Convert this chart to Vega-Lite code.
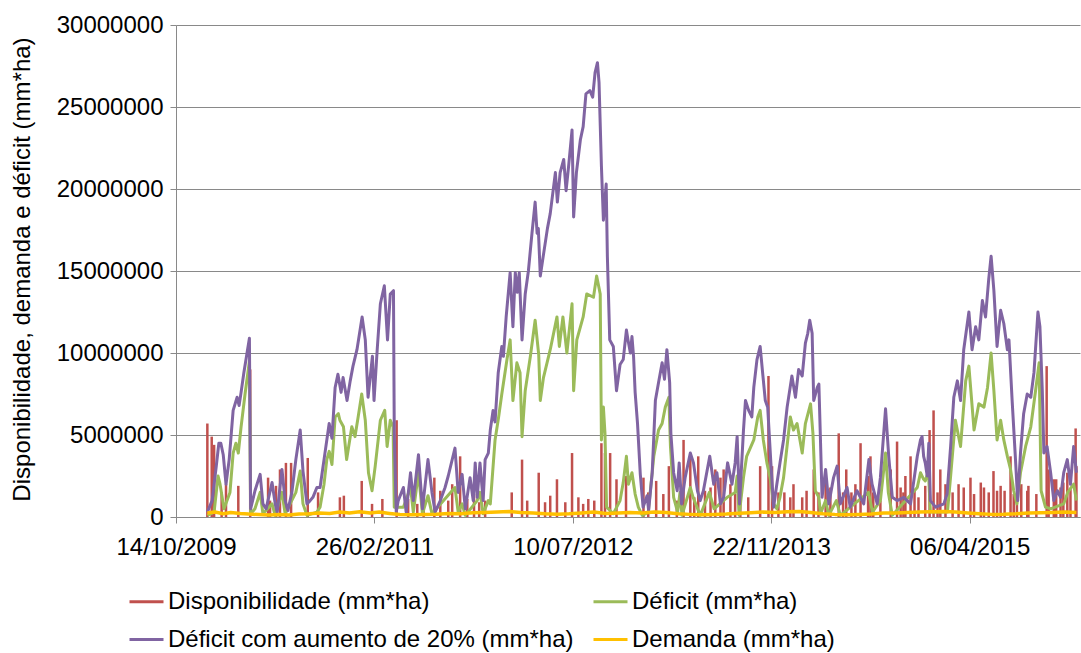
{
  "$schema": "https://vega.github.io/schema/vega-lite/v6.json",
  "width": 904,
  "height": 492,
  "autosize": {"type": "none"},
  "padding": {"left": 176, "top": 25, "right": 1, "bottom": 136},
  "background": "white",
  "config": {
    "view": {"stroke": null},
    "font": "Liberation Sans",
    "axis": {"labelFont": "Liberation Sans", "titleFont": "Liberation Sans", "labelColor": "#000000", "titleColor": "#000000"},
    "legend": {
      "orient": "none", "legendX": -48, "legendY": 558, "columns": 2, "direction": "horizontal",
      "symbolType": "stroke", "symbolSize": 1156, "symbolStrokeWidth": 3,
      "labelFont": "Liberation Sans", "labelFontSize": 24, "labelColor": "#000000", "labelLimit": 0,
      "columnPadding": 13, "rowPadding": 7, "labelOffset": 3, "padding": 0
    }
  },
  "datasets": {
    "disp": [
      {"d":"2010-01-01","v":5700000},{"d":"2010-01-12","v":4900000},{"d":"2010-01-18","v":4400000},{"d":"2010-02-06","v":1500000},
      {"d":"2010-02-17","v":2000000},{"d":"2010-03-20","v":1900000},{"d":"2010-04-19","v":9000000},{"d":"2010-06-03","v":2400000},
      {"d":"2010-06-08","v":1000000},{"d":"2010-06-23","v":1900000},
      {"d":"2010-07-03","v":2900000},{"d":"2010-07-18","v":3300000},{"d":"2010-07-31","v":3300000},{"d":"2010-09-11","v":3600000},
      {"d":"2010-10-07","v":1500000},{"d":"2010-12-01","v":1200000},{"d":"2010-12-11","v":1300000},{"d":"2011-01-25","v":2200000},
      {"d":"2011-02-20","v":800000},{"d":"2011-03-18","v":1100000},{"d":"2011-04-23","v":5900000},{"d":"2011-05-22","v":1100000},
      {"d":"2011-06-14","v":800000},{"d":"2011-06-30","v":1500000},{"d":"2011-07-27","v":2400000},{"d":"2011-08-11","v":1600000},
      {"d":"2011-08-31","v":1000000},{"d":"2011-09-10","v":2000000},{"d":"2011-09-30","v":3700000},
      {"d":"2011-10-18","v":1100000},{"d":"2011-11-04","v":1400000},{"d":"2011-11-17","v":900000},{"d":"2011-12-02","v":1000000},
      {"d":"2012-02-07","v":1500000},{"d":"2012-03-04","v":3500000},{"d":"2012-03-17","v":1000000},{"d":"2012-04-15","v":2700000},
      {"d":"2012-05-01","v":900000},{"d":"2012-05-14","v":1300000},{"d":"2012-05-31","v":2300000},
      {"d":"2012-06-21","v":900000},{"d":"2012-07-08","v":3900000},{"d":"2012-07-24","v":1200000},{"d":"2012-08-05","v":800000},
      {"d":"2012-08-18","v":1100000},{"d":"2012-09-02","v":1000000},
      {"d":"2012-09-20","v":4500000},{"d":"2012-09-29","v":3900000},{"d":"2012-10-12","v":3900000},{"d":"2012-10-28","v":2300000},
      {"d":"2012-11-21","v":2500000},{"d":"2013-01-04","v":2400000},{"d":"2013-01-16","v":1500000},{"d":"2013-02-05","v":2200000},
      {"d":"2013-02-23","v":1400000},{"d":"2013-03-09","v":3100000},{"d":"2013-03-29","v":1000000},{"d":"2013-04-15","v":4700000},
      {"d":"2013-05-02","v":3900000},{"d":"2013-05-12","v":1200000},{"d":"2013-05-22","v":3700000},
      {"d":"2013-06-08","v":1600000},{"d":"2013-06-22","v":1800000},{"d":"2013-07-04","v":2900000},{"d":"2013-07-17","v":2400000},
      {"d":"2013-07-25","v":2900000},{"d":"2013-08-11","v":2000000},{"d":"2013-08-23","v":1400000},{"d":"2013-09-05","v":1600000},
      {"d":"2013-09-25","v":1200000},{"d":"2013-10-25","v":3100000},{"d":"2013-11-15","v":8600000},
      {"d":"2013-11-24","v":3100000},{"d":"2013-12-10","v":1500000},{"d":"2013-12-25","v":1500000},{"d":"2014-01-09","v":1200000},
      {"d":"2014-01-17","v":2000000},{"d":"2014-02-08","v":1200000},{"d":"2014-02-19","v":1600000},{"d":"2014-03-09","v":2900000},
      {"d":"2014-03-21","v":1500000},{"d":"2014-04-08","v":2700000},{"d":"2014-04-20","v":1800000},{"d":"2014-05-11","v":5100000},
      {"d":"2014-05-22","v":1500000},{"d":"2014-05-30","v":2900000},{"d":"2014-06-12","v":1500000},{"d":"2014-06-22","v":2000000},
      {"d":"2014-07-05","v":4500000},{"d":"2014-07-24","v":2500000},{"d":"2014-07-30","v":3700000},{"d":"2014-08-06","v":1500000},
      {"d":"2014-08-24","v":1000000},{"d":"2014-09-19","v":2900000},{"d":"2014-10-05","v":4600000},{"d":"2014-10-14","v":1800000},
      {"d":"2014-10-21","v":1500000},{"d":"2014-10-26","v":2500000},{"d":"2014-11-08","v":3700000},{"d":"2014-11-18","v":1700000},
      {"d":"2014-11-28","v":1200000},{"d":"2014-12-15","v":1900000},{"d":"2014-12-26","v":5300000},
      {"d":"2015-01-05","v":6500000},{"d":"2015-01-15","v":1500000},{"d":"2015-01-22","v":2900000},{"d":"2015-02-04","v":2000000},
      {"d":"2015-02-22","v":1500000},{"d":"2015-03-09","v":2000000},{"d":"2015-03-22","v":1800000},{"d":"2015-04-08","v":2400000},
      {"d":"2015-04-17","v":1400000},{"d":"2015-05-04","v":2100000},{"d":"2015-05-12","v":1800000},{"d":"2015-05-24","v":1500000},
      {"d":"2015-06-05","v":2800000},{"d":"2015-06-14","v":1600000},{"d":"2015-06-23","v":1900000},{"d":"2015-07-03","v":1600000},
      {"d":"2015-07-18","v":3700000},{"d":"2015-07-26","v":1400000},{"d":"2015-08-03","v":1200000},{"d":"2015-08-14","v":2000000},
      {"d":"2015-08-29","v":1600000},{"d":"2015-09-01","v":1900000},{"d":"2015-09-21","v":1400000},{"d":"2015-10-17","v":9200000},
      {"d":"2015-10-22","v":2900000},{"d":"2015-11-04","v":2300000},{"d":"2015-11-10","v":2300000},{"d":"2015-11-21","v":1800000},
      {"d":"2015-11-28","v":2100000},{"d":"2015-12-08","v":2700000},{"d":"2015-12-16","v":1700000},{"d":"2015-12-29","v":5400000},
      {"d":"2015-12-31","v":3100000}
    ],
    "def": [
      {"d":"2010-01-01","v":100000},{"d":"2010-01-18","v":300000},{"d":"2010-01-28","v":2500000},{"d":"2010-02-02","v":2000000},
      {"d":"2010-02-12","v":500000},{"d":"2010-02-27","v":1500000},{"d":"2010-03-07","v":3900000},{"d":"2010-03-14","v":4500000},
      {"d":"2010-03-20","v":3900000},{"d":"2010-03-27","v":5500000},{"d":"2010-04-06","v":7500000},{"d":"2010-04-17","v":9500000},
      {"d":"2010-04-20","v":200000},{"d":"2010-05-01","v":500000},{"d":"2010-05-14","v":1500000},{"d":"2010-05-21","v":200000},
      {"d":"2010-06-13","v":800000},{"d":"2010-06-21","v":100000},{"d":"2010-07-08","v":1500000},{"d":"2010-07-16","v":200000},
      {"d":"2010-08-12","v":1500000},{"d":"2010-08-23","v":2800000},{"d":"2010-08-30","v":800000},{"d":"2010-09-09","v":100000},
      {"d":"2010-10-04","v":300000},{"d":"2010-10-12","v":600000},{"d":"2010-10-22","v":2000000},{"d":"2010-10-29","v":3500000},
      {"d":"2010-11-04","v":4000000},{"d":"2010-11-11","v":3200000},{"d":"2010-11-19","v":6100000},{"d":"2010-11-27","v":6300000},
      {"d":"2010-12-01","v":5900000},{"d":"2010-12-10","v":5500000},{"d":"2010-12-18","v":3500000},{"d":"2010-12-31","v":5500000},
      {"d":"2011-01-08","v":4900000},{"d":"2011-01-16","v":6100000},{"d":"2011-01-25","v":7500000},{"d":"2011-02-03","v":5900000},
      {"d":"2011-02-11","v":2700000},{"d":"2011-02-20","v":1600000},{"d":"2011-02-28","v":3100000},{"d":"2011-03-13","v":5900000},
      {"d":"2011-03-24","v":6500000},{"d":"2011-03-30","v":4300000},{"d":"2011-04-07","v":5900000},{"d":"2011-04-14","v":5500000},
      {"d":"2011-04-17","v":600000},{"d":"2011-05-10","v":600000},{"d":"2011-05-28","v":1800000},{"d":"2011-06-04","v":300000},
      {"d":"2011-06-17","v":2700000},{"d":"2011-06-27","v":200000},{"d":"2011-07-11","v":1300000},{"d":"2011-07-21","v":200000},
      {"d":"2011-09-17","v":1800000},{"d":"2011-09-25","v":300000},{"d":"2011-10-05","v":800000},{"d":"2011-10-13","v":100000},
      {"d":"2011-11-12","v":1000000},{"d":"2011-11-19","v":1500000},{"d":"2011-11-27","v":200000},{"d":"2011-12-10","v":1000000},
      {"d":"2011-12-15","v":800000},{"d":"2011-12-27","v":4700000},{"d":"2012-01-05","v":6100000},{"d":"2012-01-13","v":7500000},
      {"d":"2012-01-26","v":9600000},{"d":"2012-02-03","v":10800000},{"d":"2012-02-10","v":7100000},{"d":"2012-02-20","v":9400000},
      {"d":"2012-02-28","v":8800000},{"d":"2012-03-04","v":4900000},{"d":"2012-03-12","v":7700000},{"d":"2012-03-25","v":9800000},
      {"d":"2012-04-06","v":12000000},{"d":"2012-04-15","v":9900000},{"d":"2012-04-19","v":7100000},{"d":"2012-04-27","v":8500000},
      {"d":"2012-05-14","v":10200000},{"d":"2012-05-31","v":12200000},{"d":"2012-06-06","v":10400000},{"d":"2012-06-15","v":12200000},
      {"d":"2012-06-25","v":10000000},{"d":"2012-07-08","v":13000000},{"d":"2012-07-12","v":7700000},{"d":"2012-07-20","v":10800000},
      {"d":"2012-08-05","v":12200000},{"d":"2012-08-14","v":13600000},{"d":"2012-08-31","v":13400000},{"d":"2012-09-08","v":14700000},
      {"d":"2012-09-17","v":13600000},{"d":"2012-09-20","v":4700000},{"d":"2012-09-25","v":6700000},{"d":"2012-09-29","v":5100000},
      {"d":"2012-10-03","v":600000},{"d":"2012-10-20","v":200000},{"d":"2012-11-06","v":1000000},{"d":"2012-11-14","v":2100000},
      {"d":"2012-11-22","v":3700000},{"d":"2012-11-27","v":2000000},{"d":"2012-12-06","v":2700000},{"d":"2012-12-14","v":1400000},
      {"d":"2012-12-22","v":600000},{"d":"2013-01-01","v":100000},{"d":"2013-01-16","v":300000},{"d":"2013-01-30","v":3700000},
      {"d":"2013-02-11","v":5300000},{"d":"2013-02-20","v":5700000},{"d":"2013-02-28","v":6700000},{"d":"2013-03-09","v":7300000},
      {"d":"2013-03-13","v":4300000},{"d":"2013-03-21","v":1200000},{"d":"2013-03-31","v":300000},{"d":"2013-04-06","v":1500000},
      {"d":"2013-04-11","v":100000},{"d":"2013-05-02","v":1800000},{"d":"2013-05-09","v":1200000},{"d":"2013-05-27","v":100000},
      {"d":"2013-06-19","v":1500000},{"d":"2013-07-01","v":500000},{"d":"2013-08-03","v":1200000},{"d":"2013-08-23","v":1500000},
      {"d":"2013-08-28","v":2500000},{"d":"2013-09-02","v":100000},{"d":"2013-09-13","v":2400000},{"d":"2013-09-21","v":3700000},
      {"d":"2013-10-09","v":4700000},{"d":"2013-10-19","v":6100000},{"d":"2013-10-25","v":6500000},{"d":"2013-11-02","v":4700000},
      {"d":"2013-11-11","v":3300000},{"d":"2013-11-19","v":2400000},{"d":"2013-11-28","v":800000},{"d":"2013-12-06","v":500000},
      {"d":"2013-12-14","v":1200000},{"d":"2013-12-23","v":2400000},{"d":"2014-01-09","v":6100000},{"d":"2014-01-17","v":5300000},
      {"d":"2014-01-26","v":5700000},{"d":"2014-02-08","v":3900000},{"d":"2014-02-16","v":5700000},{"d":"2014-03-01","v":6900000},
      {"d":"2014-03-07","v":5100000},{"d":"2014-03-13","v":1600000},{"d":"2014-03-22","v":1200000},{"d":"2014-03-26","v":200000},
      {"d":"2014-04-08","v":1000000},{"d":"2014-04-16","v":100000},{"d":"2014-05-05","v":1000000},{"d":"2014-05-15","v":100000},
      {"d":"2014-07-25","v":1500000},{"d":"2014-08-04","v":300000},{"d":"2014-08-24","v":1000000},{"d":"2014-09-06","v":3900000},
      {"d":"2014-09-13","v":1500000},{"d":"2014-09-23","v":100000},{"d":"2014-11-25","v":1800000},{"d":"2014-12-03","v":2700000},
      {"d":"2014-12-11","v":2300000},{"d":"2014-12-15","v":2200000},{"d":"2014-12-23","v":2800000},{"d":"2014-12-28","v":300000},
      {"d":"2015-02-09","v":300000},{"d":"2015-02-17","v":2500000},{"d":"2015-03-01","v":5900000},{"d":"2015-03-14","v":4300000},
      {"d":"2015-03-27","v":8300000},{"d":"2015-04-04","v":9200000},{"d":"2015-04-17","v":5300000},{"d":"2015-04-29","v":6900000},
      {"d":"2015-05-12","v":6700000},{"d":"2015-05-21","v":7900000},{"d":"2015-05-30","v":10000000},{"d":"2015-06-06","v":7700000},
      {"d":"2015-06-14","v":4700000},{"d":"2015-06-23","v":5900000},{"d":"2015-07-01","v":4700000},{"d":"2015-07-10","v":3700000},
      {"d":"2015-07-18","v":2900000},{"d":"2015-07-26","v":1600000},{"d":"2015-08-03","v":800000},{"d":"2015-08-12","v":2700000},
      {"d":"2015-08-25","v":4300000},{"d":"2015-09-07","v":5500000},{"d":"2015-09-19","v":7700000},{"d":"2015-09-28","v":9400000},
      {"d":"2015-10-03","v":1600000},{"d":"2015-10-14","v":600000},{"d":"2015-10-27","v":500000},{"d":"2015-11-29","v":800000},
      {"d":"2015-12-09","v":1500000},{"d":"2015-12-24","v":2000000},{"d":"2015-12-31","v":1000000}
    ],
    "def20": [
      {"d":"2010-01-01","v":300000},{"d":"2010-01-13","v":1000000},{"d":"2010-01-23","v":3000000},{"d":"2010-01-30","v":4500000},
      {"d":"2010-02-04","v":4500000},{"d":"2010-02-10","v":3800000},{"d":"2010-02-17","v":2000000},{"d":"2010-02-25","v":3500000},
      {"d":"2010-03-07","v":6500000},{"d":"2010-03-17","v":7300000},{"d":"2010-03-22","v":6800000},{"d":"2010-03-27","v":7600000},
      {"d":"2010-04-03","v":8800000},{"d":"2010-04-11","v":10000000},{"d":"2010-04-17","v":10900000},{"d":"2010-04-20","v":500000},
      {"d":"2010-05-01","v":1600000},{"d":"2010-05-14","v":2600000},{"d":"2010-05-21","v":800000},{"d":"2010-05-29","v":500000},
      {"d":"2010-06-13","v":2100000},{"d":"2010-06-21","v":800000},{"d":"2010-06-26","v":300000},{"d":"2010-07-08","v":2900000},
      {"d":"2010-07-16","v":1000000},{"d":"2010-07-23","v":400000},{"d":"2010-08-02","v":1500000},{"d":"2010-08-12","v":3500000},
      {"d":"2010-08-23","v":5300000},{"d":"2010-08-30","v":2800000},{"d":"2010-09-09","v":800000},{"d":"2010-09-17","v":1000000},
      {"d":"2010-09-24","v":1200000},{"d":"2010-10-04","v":1800000},{"d":"2010-10-12","v":1800000},{"d":"2010-10-22","v":3500000},
      {"d":"2010-11-04","v":5700000},{"d":"2010-11-11","v":4800000},{"d":"2010-11-19","v":7900000},{"d":"2010-11-26","v":8700000},
      {"d":"2010-12-04","v":7600000},{"d":"2010-12-09","v":8500000},{"d":"2010-12-19","v":7100000},{"d":"2010-12-27","v":8300000},
      {"d":"2011-01-03","v":9200000},{"d":"2011-01-13","v":10200000},{"d":"2011-01-26","v":12200000},{"d":"2011-02-03","v":10800000},
      {"d":"2011-02-10","v":7300000},{"d":"2011-02-21","v":9800000},{"d":"2011-02-25","v":7100000},{"d":"2011-03-05","v":10200000},
      {"d":"2011-03-13","v":13000000},{"d":"2011-03-23","v":14100000},{"d":"2011-03-31","v":10800000},{"d":"2011-04-07","v":13600000},
      {"d":"2011-04-15","v":13800000},{"d":"2011-04-17","v":5100000},{"d":"2011-04-22","v":300000},{"d":"2011-04-27","v":1000000},
      {"d":"2011-05-10","v":1800000},{"d":"2011-05-17","v":300000},{"d":"2011-05-28","v":2700000},{"d":"2011-06-04","v":1000000},
      {"d":"2011-06-17","v":3800000},{"d":"2011-06-27","v":500000},{"d":"2011-07-11","v":3500000},{"d":"2011-07-21","v":1500000},
      {"d":"2011-07-29","v":300000},{"d":"2011-08-11","v":1000000},{"d":"2011-08-23","v":1800000},{"d":"2011-08-31","v":2500000},
      {"d":"2011-09-17","v":4200000},{"d":"2011-09-25","v":1500000},{"d":"2011-10-05","v":2600000},{"d":"2011-10-13","v":500000},
      {"d":"2011-10-25","v":2400000},{"d":"2011-11-02","v":1000000},{"d":"2011-11-07","v":3300000},{"d":"2011-11-12","v":1200000},
      {"d":"2011-11-19","v":3300000},{"d":"2011-11-27","v":1000000},{"d":"2011-12-02","v":3500000},{"d":"2011-12-10","v":3900000},
      {"d":"2011-12-15","v":5300000},{"d":"2011-12-22","v":6500000},{"d":"2011-12-27","v":5800000},{"d":"2012-01-04","v":8800000},
      {"d":"2012-01-13","v":10400000},{"d":"2012-01-17","v":9800000},{"d":"2012-01-24","v":12200000},{"d":"2012-02-03","v":14900000},
      {"d":"2012-02-10","v":11600000},{"d":"2012-02-16","v":14900000},{"d":"2012-02-21","v":13700000},{"d":"2012-02-26","v":14900000},
      {"d":"2012-03-04","v":10800000},{"d":"2012-03-12","v":13600000},{"d":"2012-03-20","v":15000000},{"d":"2012-03-29","v":17300000},
      {"d":"2012-04-06","v":19200000},{"d":"2012-04-11","v":17300000},{"d":"2012-04-14","v":17600000},{"d":"2012-04-19","v":14700000},
      {"d":"2012-04-27","v":16000000},{"d":"2012-05-07","v":17600000},{"d":"2012-05-14","v":18500000},{"d":"2012-05-27","v":21000000},
      {"d":"2012-06-01","v":19200000},{"d":"2012-06-08","v":21000000},{"d":"2012-06-17","v":21800000},{"d":"2012-06-23","v":19900000},
      {"d":"2012-06-29","v":21300000},{"d":"2012-07-08","v":23600000},{"d":"2012-07-12","v":18300000},{"d":"2012-07-19","v":21000000},
      {"d":"2012-07-29","v":23000000},{"d":"2012-08-05","v":23800000},{"d":"2012-08-12","v":25800000},{"d":"2012-08-22","v":26000000},
      {"d":"2012-08-29","v":25600000},{"d":"2012-09-04","v":27100000},{"d":"2012-09-10","v":27700000},{"d":"2012-09-14","v":26500000},
      {"d":"2012-09-20","v":21400000},{"d":"2012-09-25","v":18100000},{"d":"2012-10-02","v":20300000},{"d":"2012-10-05","v":15900000},
      {"d":"2012-10-11","v":10800000},{"d":"2012-10-20","v":10400000},{"d":"2012-10-28","v":7700000},{"d":"2012-11-06","v":9300000},
      {"d":"2012-11-14","v":9600000},{"d":"2012-11-22","v":11400000},{"d":"2012-11-26","v":10800000},{"d":"2012-12-02","v":10000000},
      {"d":"2012-12-06","v":11000000},{"d":"2012-12-10","v":9800000},{"d":"2012-12-14","v":7600000},{"d":"2012-12-20","v":5700000},
      {"d":"2012-12-27","v":2600000},{"d":"2013-01-03","v":600000},{"d":"2013-01-13","v":1300000},{"d":"2013-01-17","v":400000},
      {"d":"2013-01-26","v":2700000},{"d":"2013-02-03","v":7100000},{"d":"2013-02-11","v":8200000},{"d":"2013-02-20","v":9400000},
      {"d":"2013-02-26","v":8400000},{"d":"2013-03-04","v":10200000},{"d":"2013-03-11","v":8200000},{"d":"2013-03-14","v":5100000},
      {"d":"2013-03-21","v":2700000},{"d":"2013-03-30","v":1600000},{"d":"2013-04-04","v":3300000},{"d":"2013-04-10","v":800000},
      {"d":"2013-04-19","v":2400000},{"d":"2013-05-02","v":3900000},{"d":"2013-05-10","v":3300000},{"d":"2013-05-20","v":1600000},
      {"d":"2013-05-27","v":1000000},{"d":"2013-06-04","v":1600000},{"d":"2013-06-20","v":3700000},{"d":"2013-06-30","v":2000000},
      {"d":"2013-07-08","v":2700000},{"d":"2013-07-17","v":800000},{"d":"2013-07-25","v":1200000},{"d":"2013-08-04","v":3300000},
      {"d":"2013-08-15","v":2000000},{"d":"2013-08-23","v":3300000},{"d":"2013-08-28","v":4900000},{"d":"2013-09-03","v":800000},
      {"d":"2013-09-13","v":5300000},{"d":"2013-09-18","v":7100000},{"d":"2013-09-26","v":6500000},{"d":"2013-10-04","v":6100000},
      {"d":"2013-10-09","v":7900000},{"d":"2013-10-17","v":9600000},{"d":"2013-10-25","v":10400000},{"d":"2013-11-01","v":8600000},
      {"d":"2013-11-07","v":7100000},{"d":"2013-11-13","v":6700000},{"d":"2013-11-21","v":3300000},{"d":"2013-11-28","v":600000},
      {"d":"2013-12-06","v":2000000},{"d":"2013-12-14","v":3300000},{"d":"2013-12-23","v":4700000},{"d":"2014-01-01","v":6700000},
      {"d":"2014-01-13","v":8600000},{"d":"2014-01-22","v":7300000},{"d":"2014-01-30","v":9000000},{"d":"2014-02-08","v":8600000},
      {"d":"2014-02-16","v":10600000},{"d":"2014-02-22","v":11200000},{"d":"2014-02-27","v":12000000},{"d":"2014-03-05","v":11200000},
      {"d":"2014-03-09","v":7100000},{"d":"2014-03-18","v":7900000},{"d":"2014-03-22","v":8100000},{"d":"2014-03-26","v":4700000},
      {"d":"2014-03-30","v":1200000},{"d":"2014-04-08","v":2900000},{"d":"2014-04-16","v":800000},{"d":"2014-04-28","v":2400000},
      {"d":"2014-05-07","v":3100000},{"d":"2014-05-15","v":800000},{"d":"2014-06-01","v":1800000},{"d":"2014-06-09","v":600000},
      {"d":"2014-06-26","v":1600000},{"d":"2014-07-13","v":800000},{"d":"2014-07-26","v":3500000},{"d":"2014-08-03","v":2000000},
      {"d":"2014-08-16","v":800000},{"d":"2014-08-24","v":2400000},{"d":"2014-09-06","v":6600000},{"d":"2014-09-14","v":3700000},
      {"d":"2014-09-23","v":1200000},{"d":"2014-10-05","v":1000000},{"d":"2014-10-22","v":1200000},{"d":"2014-11-08","v":800000},
      {"d":"2014-11-25","v":3700000},{"d":"2014-12-03","v":4700000},{"d":"2014-12-07","v":4900000},{"d":"2014-12-11","v":3700000},
      {"d":"2014-12-15","v":3300000},{"d":"2014-12-20","v":2500000},{"d":"2014-12-24","v":4500000},{"d":"2014-12-28","v":1000000},
      {"d":"2015-01-10","v":600000},{"d":"2015-01-31","v":800000},{"d":"2015-02-08","v":1400000},{"d":"2015-02-17","v":4300000},
      {"d":"2015-02-25","v":7300000},{"d":"2015-03-06","v":8300000},{"d":"2015-03-14","v":7100000},{"d":"2015-03-22","v":10200000},
      {"d":"2015-04-04","v":12500000},{"d":"2015-04-12","v":10200000},{"d":"2015-04-21","v":11600000},{"d":"2015-04-29","v":10800000},
      {"d":"2015-05-08","v":13200000},{"d":"2015-05-16","v":12200000},{"d":"2015-05-24","v":14500000},{"d":"2015-05-30","v":15900000},
      {"d":"2015-06-06","v":13800000},{"d":"2015-06-14","v":10400000},{"d":"2015-06-23","v":12600000},{"d":"2015-07-01","v":11800000},
      {"d":"2015-07-10","v":10200000},{"d":"2015-07-14","v":10800000},{"d":"2015-07-22","v":7100000},{"d":"2015-07-30","v":3700000},
      {"d":"2015-08-05","v":1000000},{"d":"2015-08-12","v":3900000},{"d":"2015-08-20","v":6300000},{"d":"2015-08-29","v":7500000},
      {"d":"2015-09-07","v":7300000},{"d":"2015-09-15","v":8800000},{"d":"2015-09-25","v":12500000},{"d":"2015-09-30","v":11600000},
      {"d":"2015-10-06","v":7700000},{"d":"2015-10-10","v":3900000},{"d":"2015-10-18","v":4300000},{"d":"2015-10-27","v":2700000},
      {"d":"2015-11-04","v":1000000},{"d":"2015-11-13","v":1600000},{"d":"2015-11-21","v":1200000},{"d":"2015-11-29","v":2700000},
      {"d":"2015-12-08","v":3500000},{"d":"2015-12-16","v":2000000},{"d":"2015-12-24","v":4300000},{"d":"2015-12-31","v":2700000}
    ],
    "dem": [
      {"d":"2010-01-01","v":250000},{"d":"2010-01-20","v":300000},{"d":"2010-02-10","v":200000},{"d":"2010-03-01","v":280000},
      {"d":"2010-03-25","v":220000},{"d":"2010-04-15","v":180000},{"d":"2010-05-10","v":150000},{"d":"2010-06-05","v":120000},
      {"d":"2010-07-01","v":150000},{"d":"2010-07-25","v":120000},{"d":"2010-08-20","v":180000},{"d":"2010-09-15","v":200000},
      {"d":"2010-10-10","v":250000},{"d":"2010-11-05","v":220000},{"d":"2010-12-01","v":300000},{"d":"2010-12-25","v":250000},
      {"d":"2011-01-20","v":320000},{"d":"2011-02-15","v":250000},{"d":"2011-03-10","v":300000},{"d":"2011-04-05","v":220000},
      {"d":"2011-05-01","v":150000},{"d":"2011-06-01","v":130000},{"d":"2011-07-01","v":150000},{"d":"2011-08-01","v":170000},
      {"d":"2011-09-01","v":220000},{"d":"2011-10-01","v":200000},{"d":"2011-11-01","v":260000},{"d":"2011-12-01","v":280000},
      {"d":"2012-01-01","v":300000},{"d":"2012-02-01","v":330000},{"d":"2012-03-01","v":280000},{"d":"2012-04-01","v":250000},
      {"d":"2012-05-01","v":200000},{"d":"2012-06-01","v":170000},{"d":"2012-07-01","v":200000},{"d":"2012-08-01","v":250000},
      {"d":"2012-09-01","v":300000},{"d":"2012-10-01","v":220000},{"d":"2012-11-01","v":250000},{"d":"2012-12-01","v":280000},
      {"d":"2013-01-01","v":250000},{"d":"2013-02-01","v":300000},{"d":"2013-03-01","v":280000},{"d":"2013-04-01","v":200000},
      {"d":"2013-05-01","v":160000},{"d":"2013-06-01","v":130000},{"d":"2013-07-01","v":150000},{"d":"2013-08-01","v":180000},
      {"d":"2013-09-01","v":230000},{"d":"2013-10-01","v":260000},{"d":"2013-11-01","v":300000},{"d":"2013-12-01","v":280000},
      {"d":"2014-01-01","v":320000},{"d":"2014-02-01","v":330000},{"d":"2014-03-01","v":280000},{"d":"2014-04-01","v":200000},
      {"d":"2014-05-01","v":160000},{"d":"2014-06-01","v":140000},{"d":"2014-07-01","v":160000},{"d":"2014-08-01","v":190000},
      {"d":"2014-09-01","v":240000},{"d":"2014-10-01","v":250000},{"d":"2014-11-01","v":270000},{"d":"2014-12-01","v":300000},
      {"d":"2015-01-01","v":320000},{"d":"2015-02-01","v":340000},{"d":"2015-03-01","v":300000},{"d":"2015-04-01","v":250000},
      {"d":"2015-05-01","v":200000},{"d":"2015-06-01","v":160000},{"d":"2015-07-01","v":170000},{"d":"2015-08-01","v":200000},
      {"d":"2015-09-01","v":250000},{"d":"2015-10-01","v":260000},{"d":"2015-11-01","v":280000},{"d":"2015-12-01","v":300000},
      {"d":"2015-12-31","v":280000}
    ]
  },
  "encoding": {
    "x": {
      "field": "d", "type": "temporal",
      "scale": {"type": "utc", "domain": [{"year": 2009, "month": 10, "date": 14, "utc": true}, {"year": 2016, "month": 1, "date": 9, "utc": true}], "nice": false},
      "axis": {
        "title": null, "grid": false,
        "values": [
          {"year": 2009, "month": 10, "date": 14, "utc": true},
          {"year": 2011, "month": 2, "date": 26, "utc": true},
          {"year": 2012, "month": 7, "date": 10, "utc": true},
          {"year": 2013, "month": 11, "date": 22, "utc": true},
          {"year": 2015, "month": 4, "date": 6, "utc": true}
        ],
        "labelExpr": "utcFormat(datum.value, '%d/%m/%Y')",
        "labelFontSize": 24, "labelPadding": 12, "labelFlush": false, "labelOverlap": false,
        "domainColor": "#898989", "tickColor": "#898989", "tickSize": 6, "domainWidth": 1
      }
    },
    "y": {
      "field": "v", "type": "quantitative",
      "scale": {"domain": [0, 30000000], "nice": false, "zero": true},
      "axis": {
        "values": [0, 5000000, 10000000, 15000000, 20000000, 25000000, 30000000],
        "format": "d", "grid": true, "gridColor": "#898989", "gridWidth": 1,
        "domainColor": "#898989", "tickColor": "#898989", "tickSize": 6,
        "labelFontSize": 24, "labelPadding": 7,
        "title": "Disponibilidade, demanda e déficit (mm*ha)",
        "titleFontSize": 24, "titleFontWeight": "normal",
        "titleAngle": 270, "titleX": -154, "titleY": 244, "titleAlign": "center", "titleBaseline": "middle"
      }
    }
  },
  "layer": [
    {
      "data": {"name": "disp"},
      "mark": {"type": "rule", "strokeWidth": 2.5},
      "encoding": {
        "y2": {"datum": 0},
        "color": {
          "datum": "Disponibilidade (mm*ha)", "type": "nominal",
          "scale": {
            "domain": ["Disponibilidade (mm*ha)", "Déficit (mm*ha)", "Déficit com aumento de 20% (mm*ha)", "Demanda (mm*ha)"],
            "range": ["#C0504D", "#9BBB59", "#8064A2", "#FFC000"]
          },
          "legend": {"title": null}
        }
      }
    },
    {
      "data": {"name": "def"},
      "mark": {"type": "line", "strokeWidth": 3, "strokeJoin": "round"},
      "encoding": {"color": {"datum": "Déficit (mm*ha)", "type": "nominal"}}
    },
    {
      "data": {"name": "def20"},
      "mark": {"type": "line", "strokeWidth": 3, "strokeJoin": "round"},
      "encoding": {"color": {"datum": "Déficit com aumento de 20% (mm*ha)", "type": "nominal"}}
    },
    {
      "data": {"name": "dem"},
      "mark": {"type": "line", "strokeWidth": 3.5, "strokeJoin": "round"},
      "encoding": {"color": {"datum": "Demanda (mm*ha)", "type": "nominal"}}
    }
  ]
}
